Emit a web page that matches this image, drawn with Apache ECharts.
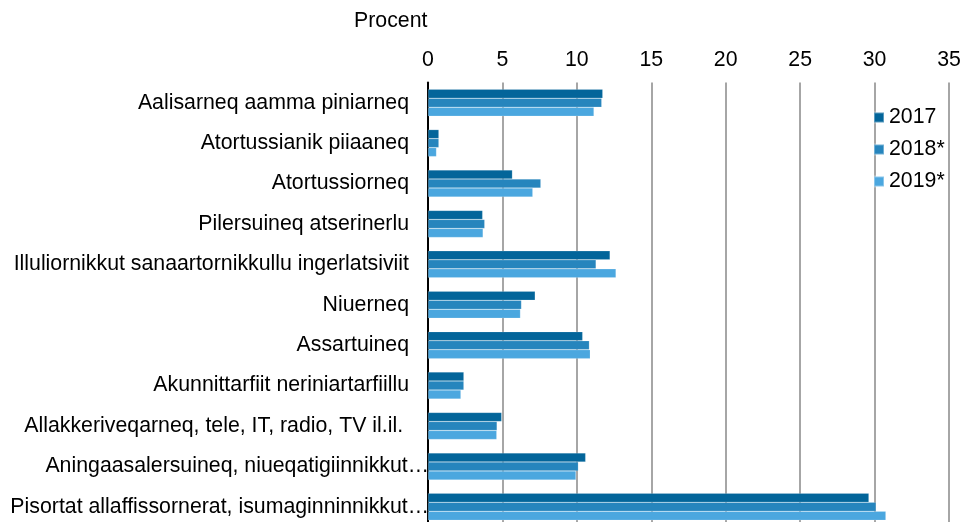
<!DOCTYPE html>
<html>
<head>
<meta charset="utf-8">
<script src="https://cdn.jsdelivr.net/npm/echarts@6/dist/echarts.min.js"></script>
<style>html,body{margin:0;padding:0;background:#fff}#c{width:964px;height:522px}</style>
</head>
<body>
<div id="c"></div>
<script>
const categories = [
  "Aalisarneq aamma piniarneq",
  "Atortussianik piiaaneq",
  "Atortussiorneq",
  "Pilersuineq atserinerlu",
  "Illuliornikkut sanaartornikkullu ingerlatsiviit",
  "Niuerneq",
  "Assartuineq",
  "Akunnittarfiit neriniartarfiillu",
  "Allakkeriveqarneq, tele, IT, radio, TV il.il. ",
  "Aningaasalersuineq, niueqatigiinnikkut\u2026",
  "Pisortat allaffissornerat, isumaginninnikkut\u2026"
];
const seriesNames = ["2017", "2018*", "2019*"];
const values2017 = [11.74, 0.73, 5.67, 3.67, 12.23, 7.2, 10.39, 2.41, 4.95, 10.59, 29.62];
const values2018 = [11.67, 0.73, 7.58, 3.81, 11.29, 6.28, 10.84, 2.41, 4.64, 10.1, 30.1];
const values2019 = [11.15, 0.57, 7.04, 3.7, 12.63, 6.21, 10.9, 2.21, 4.62, 9.94, 30.76];
const xTicks = [0, 5, 10, 15, 20, 25, 30, 35];

const colors = ['#03659A', '#2685BD', '#4BA7DF'];
const chart = echarts.init(document.getElementById('c'), null, {renderer: 'canvas'});
const font = 'Liberation Sans, Arial, sans-serif';
const FS = 21.3;
const allVals = [values2017, values2018, values2019];
chart.setOption({
  animation: false,
  color: colors,
  textStyle: { fontFamily: font },
  graphic: [{
    type: 'text', left: 354, top: 11,
    style: { text: 'Procent', font: FS + 'px ' + font, fill: '#000' }
  }],
  legend: {
    orient: 'vertical', left: 873, top: 107, padding: 0,
    itemWidth: 10, itemHeight: 10, itemGap: 11,
    icon: 'rect',
    textStyle: { fontSize: FS, color: '#000', fontFamily: font, padding: [0, 0, 0, 0] },
    data: seriesNames
  },
  grid: { left: 428, right: 15, top: 82.5, height: 444.5, containLabel: false, outerBoundsMode: 'none' },
  xAxis: {
    type: 'value', position: 'top', min: xTicks[0], max: xTicks[xTicks.length - 1], interval: 5,
    axisLine: { show: false },
    axisTick: { show: false },
    axisLabel: { fontSize: FS, color: '#000', margin: 12, fontFamily: font },
    splitLine: { show: true, lineStyle: { color: '#a6a6a6', width: 2 } }
  },
  yAxis: {
    type: 'category', inverse: true, data: categories,
    axisLine: { show: true, lineStyle: { color: '#000', width: 2 } },
    axisTick: { show: false },
    axisLabel: {
      fontSize: FS, color: '#000', margin: -1, fontFamily: font, interval: 0,
      formatter: function (v) {
        if (v.endsWith('\u2026')) return '{t|' + v.slice(0, -1) + '}{e|\u2026}';
        return '{t|' + v + '}{p|}';
      },
      rich: {
        t: { fontSize: FS, fontFamily: font, color: '#000' },
        e: { fontSize: FS, fontFamily: font, color: '#000' },
        p: { width: 20 }
      }
    }
  },
  series: seriesNames.map((n, i) => ({
    name: n, type: 'bar', data: allVals[i], barWidth: 9, barGap: '0%',
    itemStyle: { color: colors[i], borderColor: 'rgba(255,255,255,0.35)', borderWidth: 0.5 }
  }))
});
</script>
</body>
</html>
